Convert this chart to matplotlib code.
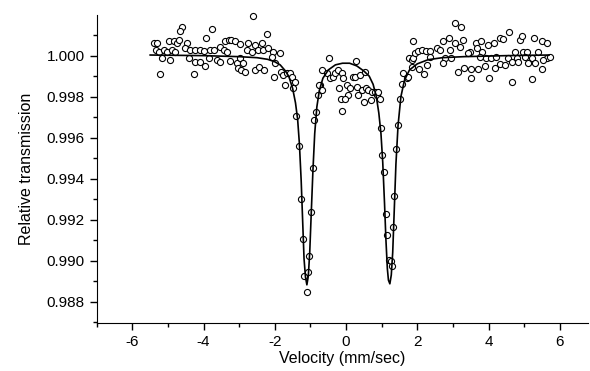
import matplotlib.pyplot as plt
from matplotlib.ticker import MultipleLocator

plt.rcParams['font.family'] = ['Liberation Sans', 'DejaVu Sans']
plt.rcParams['axes.unicode_minus'] = False

vel_left = [-2.62, -4.61, -4.65, -3.77, -2.23, -3.93,
            -5.40, -5.31, -4.98, -4.84, -4.75, -4.68, -4.47,
            -3.39, -3.30, -3.23, -3.11, -2.97, -2.74, -2.55, -2.36,
            -5.35, -5.26, -5.12, -5.03, -4.89, -4.79,
            -4.51, -4.37, -4.23, -4.09, -4.00, -3.81, -3.72,
            -3.53, -3.44, -3.33,
            -2.78, -2.64, -2.46, -2.32, -2.18, -2.04, -1.85,
            -5.17, -4.93, -4.42, -4.25, -4.11,
            -3.86, -3.63, -3.55,
            -3.27, -3.06, -2.99, -2.88, -3.95,
            -3.04, -2.95, -2.83, -2.57, -2.44, -2.30,
            -5.22, -4.28,
            -2.08, -1.99, -1.83, -1.76, -2.02, -1.71,
            -1.66, -1.57, -1.52, -1.43, -1.48]
tr_left = [1.00191, 1.00142, 1.00118, 1.00129, 1.00106, 1.00085,
           1.00060, 1.00060, 1.00069, 1.00069, 1.00060, 1.00077, 1.00064,
           1.00069, 1.00077, 1.00074, 1.00069, 1.00055, 1.00060, 1.00052, 1.00060,
           1.00027, 1.00020, 1.00027, 1.00020, 1.00027, 1.00020,
           1.00036, 1.00027, 1.00027, 1.00027, 1.00023, 1.00027, 1.00027,
           1.00044, 1.00027, 1.00020,
           1.00027, 1.00020, 1.00027, 1.00027, 1.00036, 1.00020, 1.00011,
           0.99987, 0.99978, 0.99987, 0.99970, 0.99970,
           0.99987, 0.99978, 0.99970,
           0.99973, 0.99962, 0.99987, 0.99962, 0.99951,
           0.99938, 0.99929, 0.99921, 0.99929, 0.99946, 0.99929,
           0.99910, 0.99910,
           0.99995, 0.99962, 0.99921, 0.99905, 0.99897, 0.99856,
           0.99913, 0.99913, 0.99897, 0.99872, 0.99840]

vel_dip1 = [-1.41, -1.31, -1.26, -1.21, -1.17, -1.10, -1.06, -1.03,
            -0.99, -0.94, -0.91, -0.85, -0.79, -0.73, -0.68]
tr_dip1 = [0.99708, 0.99561, 0.99303, 0.99106, 0.98926, 0.98846, 0.98944, 0.99024,
           0.99237, 0.99453, 0.99684, 0.99725, 0.99810, 0.99859, 0.99929]

vel_mid = [-0.47, -0.54, -0.45, -0.37, -0.31, -0.22, -0.12, -0.09, 0.19, 0.25,
           0.27, 0.39, 0.53, -0.75, -0.68, -0.20, -0.14, 0.02, 0.11, 0.06,
           -0.03, 0.30, 0.44, 0.55, 0.63, 0.72, 0.81, 0.34, 0.49, 0.70,
           0.88, 0.95, -0.10, 0.91]
tr_mid = [0.99990, 0.99913, 0.99889, 0.99897, 0.99913, 0.99929, 0.99913, 0.99892, 0.99897, 0.99897,
          0.99973, 0.99905, 0.99921, 0.99859, 0.99831, 0.99840, 0.99790, 0.99856, 0.99840, 0.99807,
          0.99790, 0.99848, 0.99831, 0.99840, 0.99831, 0.99823, 0.99823, 0.99810, 0.99774, 0.99782,
          0.99810, 0.99790, 0.99728, 0.99823]

vel_dip2 = [0.98, 1.02, 1.07, 1.11, 1.16, 1.21, 1.26, 1.30, 1.33, 1.35,
            1.40, 1.45, 1.51, 1.56, 1.61, 1.70]
tr_dip2 = [0.99648, 0.99515, 0.99430, 0.99226, 0.99127, 0.99001, 0.98996, 0.98975, 0.99165, 0.99316,
           0.99545, 0.99663, 0.99790, 0.99864, 0.99913, 0.99889]

vel_right = [1.75, 1.77, 1.84, 1.89, 1.89, 1.93, 2.03, 2.12, 2.24, 2.36,
             3.06, 3.22, 4.58,
             2.73, 2.90, 3.06, 3.27, 3.64, 3.80, 3.99, 4.15, 4.32, 4.41,
             4.88, 4.93, 5.27, 5.49, 5.63,
             2.54, 2.64, 2.92, 3.20, 3.48, 3.68, 3.83,
             4.74, 4.97, 5.07, 5.39,
             2.35, 2.78, 2.96, 3.43, 3.76, 3.94, 4.08, 4.22, 4.55, 4.79,
             5.02, 5.21, 5.63, 5.72,
             1.84, 2.06, 2.19, 2.26,
             2.73, 3.15, 3.31, 3.52, 3.71, 3.90, 4.18, 4.32, 4.46, 4.65,
             4.83, 5.11, 5.30, 5.53,
             3.50, 4.02, 4.67, 5.23, 5.49]
tr_right = [0.99897, 0.99987, 0.99978, 0.99987, 1.00072, 1.00011, 1.00023, 1.00027, 1.00022, 1.00025,
            1.00159, 1.00142, 1.00114,
            1.00069, 1.00088, 1.00060, 1.00077, 1.00060, 1.00072, 1.00052, 1.00060, 1.00088, 1.00082,
            1.00077, 1.00096, 1.00088, 1.00072, 1.00060,
            1.00036, 1.00027, 1.00027, 1.00044, 1.00020, 1.00039, 1.00020,
            1.00020, 1.00020, 1.00020, 1.00020,
            0.99995, 0.99987, 0.99987, 1.00011, 0.99995, 0.99987, 0.99987, 0.99995, 0.99987, 0.99990,
            0.99995, 0.99987, 0.99987, 0.99995,
            0.99946, 0.99934, 0.99908, 0.99954,
            0.99962, 0.99921, 0.99941, 0.99934, 0.99934, 0.99951, 0.99941, 0.99957, 0.99954, 0.99971,
            0.99971, 0.99962, 0.99962, 0.99978,
            0.99889, 0.99889, 0.99869, 0.99884, 0.99933]

# fitted curve
fit_vel = [-5.5, -4.0, -3.0, -2.5, -2.2, -2.0, -1.85, -1.7, -1.6, -1.5,
           -1.42, -1.36, -1.31, -1.26, -1.22, -1.18, -1.14, -1.10, -1.06, -1.02,
           -0.98, -0.93, -0.88, -0.82, -0.75, -0.65, -0.5, -0.3, -0.1, 0.1,
           0.3, 0.5, 0.65, 0.76, 0.85, 0.92, 0.98, 1.03, 1.08, 1.12,
           1.16, 1.19, 1.23, 1.27, 1.31, 1.35, 1.40, 1.46, 1.54, 1.64,
           1.78, 2.0, 2.3, 2.7, 3.3, 4.5, 5.7]
fit_tr = [1.00003, 1.00000, 0.99995, 0.99990, 0.99982, 0.99970, 0.99955, 0.99925, 0.99895, 0.99840,
          0.99770, 0.99690, 0.99570, 0.99390, 0.99200, 0.99010, 0.98920, 0.98882, 0.98925, 0.99040,
          0.99220, 0.99440, 0.99620, 0.99750, 0.99830, 0.99890, 0.99930, 0.99955, 0.99963, 0.99963,
          0.99950, 0.99925, 0.99900, 0.99860, 0.99800, 0.99720, 0.99620, 0.99480, 0.99280, 0.99100,
          0.98960, 0.98905, 0.98887, 0.98930, 0.99040, 0.99230, 0.99470, 0.99660, 0.99800, 0.99880,
          0.99930, 0.99960, 0.99980, 0.99990, 0.99995, 1.00000, 1.00003]

vel = vel_left + vel_dip1 + vel_mid + vel_dip2 + vel_right
tr = tr_left + tr_dip1 + tr_mid + tr_dip2 + tr_right

fig = plt.figure(figsize=(5.9, 3.71), dpi=100)
ax = fig.add_axes([0.164, 0.130, 0.833, 0.830])

ax.plot(vel, tr, 'o', ms=4.4, mfc='white', mec='black', mew=0.8, zorder=2, clip_on=False)
ax.plot(fit_vel, fit_tr, '-', color='black', lw=1.2, zorder=3)

ax.set_xlim(-7, 6.8)
ax.set_ylim(0.98697, 1.00199)
ax.xaxis.set_major_locator(MultipleLocator(2))
ax.xaxis.set_minor_locator(MultipleLocator(1))
ax.yaxis.set_major_locator(MultipleLocator(0.002))
ax.yaxis.set_minor_locator(MultipleLocator(0.001))
ax.yaxis.set_major_formatter(plt.FormatStrFormatter('%.3f'))

ax.spines['top'].set_visible(False)
ax.spines['right'].set_visible(False)
ax.tick_params(which='major', direction='out', length=5, width=1, labelsize=11)
ax.tick_params(which='minor', direction='out', length=3, width=1)

ax.set_xlabel('Velocity (mm/sec)', fontsize=11.5, labelpad=2)
ax.set_ylabel('Relative transmission', fontsize=11.5, labelpad=9)

fig.savefig('out.png', dpi=100)
